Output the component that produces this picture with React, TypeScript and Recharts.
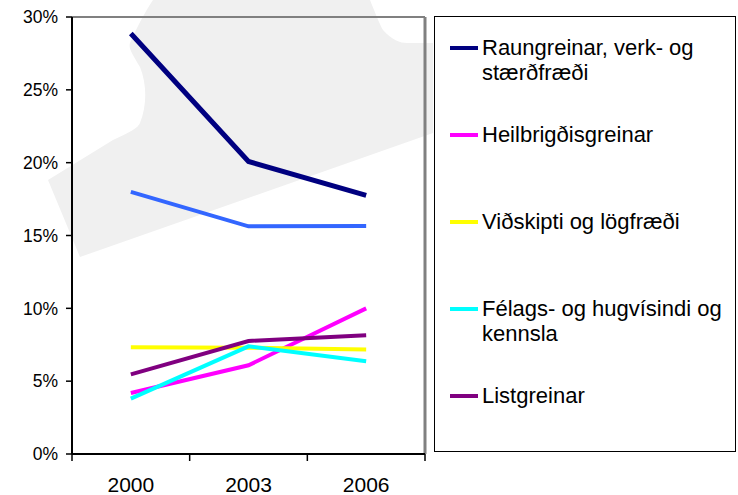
import React from 'react';
import { LineChart, Line, XAxis, YAxis, ReferenceLine, Legend } from 'recharts';

const years = ['2000', '2003', '2006'];
const raungreinar = [0.2887, 0.2008, 0.1775];
const blueSeries = [0.18, 0.1563, 0.1565];
const heilbrigdis = [0.0419, 0.0609, 0.1];
const vidskipti = [0.0732, 0.073, 0.0718];
const felags = [0.038, 0.0739, 0.0636];
const listgreinar = [0.0547, 0.0776, 0.0815];
const yTicks = [0, 0.05, 0.1, 0.15, 0.2, 0.25, 0.3];
const xTicks = [0, 0.5, 1, 1.5, 2, 2.5, 3];

const FONT = '"Liberation Sans", Arial, sans-serif';

const series = [
  { key: 'raun', lines: ['Raungreinar, verk- og', 'stærðfræði'], color: '#000080', values: raungreinar, width: 5, legend: true },
  { key: 'blue', lines: [], color: '#3366FF', values: blueSeries, width: 4, legend: false },
  { key: 'heil', lines: ['Heilbrigðisgreinar'], color: '#FF00FF', values: heilbrigdis, width: 4, legend: true },
  { key: 'vid', lines: ['Viðskipti og lögfræði'], color: '#FFFF00', values: vidskipti, width: 4, legend: true },
  { key: 'fel', lines: ['Félags- og hugvísindi og', 'kennsla'], color: '#00FFFF', values: felags, width: 4, legend: true },
  { key: 'list', lines: ['Listgreinar'], color: '#800080', values: listgreinar, width: 4, legend: true },
];

const data = years.map((year, i) => {
  const row: any = { x: i + 0.5, year };
  series.forEach((s) => {
    row[s.key] = s.values[i];
  });
  return row;
});

const XTick = (props: any) => {
  const { x, y, payload } = props;
  const v = payload.value;
  if (Number.isInteger(v)) {
    return <line x1={x} y1={y} x2={x} y2={y + 7} stroke="#000" strokeWidth={1.5} />;
  }
  const label = years[Math.floor(v)];
  return (
    <text x={x} y={y + 38} textAnchor="middle" fontSize={21} fontFamily={FONT} fill="#000">
      {label}
    </text>
  );
};

const LegendBox = () => {
  const items = series.filter((s) => s.legend);
  return (
    <div
      style={{
        width: 302,
        height: 436,
        boxSizing: 'border-box',
        border: '1px solid #000',
        background: '#fff',
        position: 'relative',
        fontFamily: FONT,
      }}
    >
      {items.map((s, i) => (
        <div
          key={s.key}
          style={{ position: 'absolute', left: 15, top: 47.5 + 87 * i - 17 - 12.5, display: 'flex' }}
        >
          <div style={{ width: 28, height: 25, position: 'relative', marginRight: 4 }}>
            <div
              style={{
                position: 'absolute',
                left: 0,
                right: 0,
                top: 10.5,
                height: 4,
                background: s.color,
              }}
            />
          </div>
          <div style={{ fontSize: 22, lineHeight: '25px', color: '#000', whiteSpace: 'nowrap' }}>
            {s.lines.map((l, j) => (
              <div key={j}>{l}</div>
            ))}
          </div>
        </div>
      ))}
    </div>
  );
};

export default function App() {
  return (
    <div style={{ position: 'absolute', left: 0, top: 0, width: 738, height: 495, background: '#fff' }}>
      <svg width={738} height={495} style={{ position: 'absolute', left: 0, top: 0 }}>
        <path
          d="M153,0 L370,0 C376,15 380,25 383,30 C392,40 400,43 407,43 L433,43 L433,133 L80,257 L48,180 L113,140 C130,132 138,128 140,123 C147,105 147,85 140,67 C133,55 128,48 130,43 C138,25 145,12 153,0 Z"
          fill="#f0f0f0"
        />
      </svg>
      <div style={{ position: 'absolute', left: 0, top: 0 }}>
        <LineChart
          width={738}
          height={495}
          data={data}
          margin={{ top: 17, right: 313, bottom: 0, left: 0 }}
        >
          <XAxis
            dataKey="x"
            type="number"
            domain={[0, 3]}
            ticks={xTicks}
            interval={0}
            height={41}
            tickLine={false}
            tickSize={0}
            tickMargin={0}
            tick={<XTick />}
            axisLine={{ stroke: '#000', strokeWidth: 2 }}
          />
          <YAxis
            type="number"
            domain={[0, 0.3]}
            ticks={yTicks}
            interval={0}
            width={72}
            tickSize={6}
            tickMargin={8}
            tickFormatter={(v: number) => `${Math.round(v * 100)}%`}
            tick={{ fontSize: 17.5, fill: '#000', fontFamily: FONT }}
            tickLine={{ stroke: '#000', strokeWidth: 1.5 }}
            axisLine={{ stroke: '#000', strokeWidth: 2 }}
          />
          <ReferenceLine y={0.3} stroke="#808080" strokeWidth={2} />
          <ReferenceLine x={3} stroke="#808080" strokeWidth={3} />
          {series.map((s) => (
            <Line
              key={s.key}
              dataKey={s.key}
              stroke={s.color}
              strokeWidth={s.width}
              dot={false}
              activeDot={false}
              isAnimationActive={false}
              legendType={s.legend ? 'line' : 'none'}
            />
          ))}
          <Legend
            layout="vertical"
            align="center"
            verticalAlign="middle"
            content={<LegendBox />}
            wrapperStyle={{ left: 434, top: 16, width: 302, height: 436 }}
          />
        </LineChart>
      </div>
    </div>
  );
}
